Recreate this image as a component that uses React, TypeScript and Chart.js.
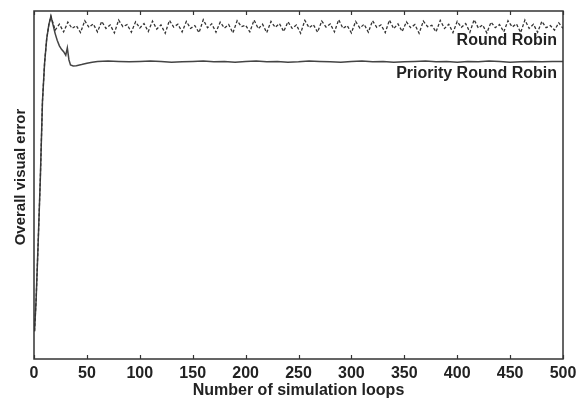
import React, { useEffect, useRef } from "react";
import { Chart, registerables } from "chart.js";

Chart.register(...registerables);

// Shared initial rise (loop index, value)
const riseLoops = [0.5, 2, 4, 6, 8, 10, 12, 14];
const riseValues = [0.08, 0.17, 0.34, 0.52, 0.74, 0.85, 0.92, 0.96];

// Round Robin: values starting at loop 16, every 4 loops up to 500
const rrStartLoop = 16;
const rrLoopStep = 4;
const rrValues = [
  0.985, 0.945, 0.962, 0.940, 0.968, 0.950, 0.958, 0.938,
  0.972, 0.953, 0.963, 0.940, 0.970, 0.950, 0.960, 0.937,
  0.974, 0.955, 0.961, 0.939, 0.969, 0.951, 0.964, 0.941,
  0.971, 0.948, 0.960, 0.936, 0.973, 0.954, 0.962, 0.940,
  0.970, 0.950, 0.958, 0.938, 0.975, 0.952, 0.963, 0.939,
  0.968, 0.951, 0.961, 0.937, 0.972, 0.955, 0.959, 0.940,
  0.974, 0.949, 0.962, 0.938, 0.970, 0.953, 0.964, 0.941,
  0.969, 0.950, 0.960, 0.936, 0.973, 0.952, 0.961, 0.939,
  0.971, 0.954, 0.963, 0.940, 0.975, 0.950, 0.958, 0.937,
  0.970, 0.951, 0.962, 0.939, 0.972, 0.953, 0.960, 0.938,
  0.974, 0.949, 0.963, 0.941, 0.969, 0.952, 0.961, 0.936,
  0.971, 0.955, 0.959, 0.940, 0.973, 0.950, 0.962, 0.938,
  0.970, 0.953, 0.964, 0.939, 0.975, 0.951, 0.960, 0.937,
  0.968, 0.952, 0.961, 0.940, 0.972, 0.954, 0.963, 0.938,
  0.974, 0.950, 0.962, 0.939, 0.970, 0.952, 0.958, 0.945,
  0.966, 0.950,
];

// Priority Round Robin: transient part
const prrHeadLoops = [16, 18, 20, 22, 24, 26, 28, 30, 31.5, 33, 34.5, 37, 40, 45, 50, 55, 60];
const prrHeadValues = [0.985, 0.96, 0.935, 0.915, 0.90, 0.89, 0.883, 0.873, 0.894, 0.86, 0.845, 0.842, 0.843, 0.846, 0.85, 0.853, 0.855];
// Priority Round Robin: steady part, loops 70..500 every 10
const prrTailStart = 70;
const prrTailStep = 10;
const prrTailValues = [
  0.856, 0.855, 0.854, 0.855, 0.856, 0.855, 0.853, 0.854, 0.855, 0.856,
  0.854, 0.855, 0.853, 0.855, 0.856, 0.854, 0.855, 0.853, 0.854, 0.856,
  0.855, 0.854, 0.853, 0.855, 0.856, 0.854, 0.855, 0.853, 0.854, 0.855,
  0.856, 0.854, 0.855, 0.853, 0.855, 0.854, 0.856, 0.855, 0.853, 0.854,
  0.855, 0.854, 0.855, 0.855,
];

const xTitle = "Number of simulation loops";
const yTitle = "Overall visual error";
const rrLabel = "Round Robin";
const prrLabel = "Priority Round Robin";

const FONT = "'Liberation Sans', Arial, sans-serif";

export default function App() {
  const ref = useRef<HTMLCanvasElement | null>(null);

  useEffect(() => {
    if (!ref.current) return;
    const rise = riseLoops.map((x, i) => ({ x, y: riseValues[i] }));
    const rrData = rise.concat(rrValues.map((y, i) => ({ x: rrStartLoop + i * rrLoopStep, y })));
    const prrData = rise
      .concat(prrHeadLoops.map((x, i) => ({ x, y: prrHeadValues[i] })))
      .concat(prrTailValues.map((y, i) => ({ x: prrTailStart + i * prrTailStep, y })));

    const framePlugin = {
      id: "frame",
      afterDraw(chart: any) {
        const ctx = chart.ctx;
        const { left, right, top, bottom } = chart.chartArea;
        const xs = chart.scales.x;
        ctx.save();
        ctx.strokeStyle = "#333";
        ctx.lineWidth = 1.5;
        ctx.strokeRect(left, top, right - left, bottom - top);
        ctx.lineWidth = 1.2;
        xs.ticks.forEach((t: any) => {
          const px = Math.round(xs.getPixelForValue(t.value)) + 0.5;
          ctx.beginPath();
          ctx.moveTo(px, bottom);
          ctx.lineTo(px, bottom - 4);
          ctx.moveTo(px, top);
          ctx.lineTo(px, top + 4);
          ctx.stroke();
        });
        // labels
        ctx.fillStyle = "#222";
        ctx.font = `bold 16px ${FONT}`;
        ctx.textAlign = "right";
        ctx.textBaseline = "middle";
        ctx.fillText(rrLabel, right - 6, top + 30);
        ctx.fillText(prrLabel, right - 6, top + 63);
        // y title
        ctx.font = `bold 15px ${FONT}`;
        ctx.textAlign = "center";
        ctx.translate(21, 177);
        ctx.rotate(-Math.PI / 2);
        ctx.fillText(yTitle, 0, 0);
        ctx.restore();
      },
    };

    const chart = new Chart(ref.current, {
      type: "line",
      data: {
        datasets: [
          {
            label: rrLabel,
            data: rrData,
            borderColor: "#333",
            borderWidth: 1.3,
            borderDash: [3, 2],
            pointRadius: 0,
            tension: 0,
            fill: false,
          },
          {
            label: prrLabel,
            data: prrData,
            borderColor: "#444",
            borderWidth: 1.5,
            pointRadius: 0,
            tension: 0,
            fill: false,
          },
        ],
      },
      options: {
        animation: false,
        responsive: true,
        maintainAspectRatio: false,
        layout: { padding: { top: 11, right: 24, left: 0, bottom: 0 } },
        plugins: { legend: { display: false }, tooltip: { enabled: false } },
        scales: {
          x: {
            type: "linear",
            min: 0,
            max: 500,
            grid: { display: false, drawTicks: false },
            border: { display: false },
            ticks: {
              stepSize: 50,
              padding: 5,
              color: "#222",
              maxRotation: 0,
              font: { family: FONT, size: 16, weight: "bold" },
            },
            title: {
              display: true,
              text: xTitle,
              color: "#222",
              padding: { top: 0, bottom: 0 },
              font: { family: FONT, size: 16, weight: "bold" },
            },
            afterFit(s: any) {
              s.height = 41;
            },
          },
          y: {
            type: "linear",
            min: 0,
            max: 1,
            grid: { display: false, drawTicks: false },
            border: { display: false },
            ticks: { display: false },
            afterFit(s: any) {
              s.width = 34;
            },
          },
        },
      },
      plugins: [framePlugin],
    });
    return () => chart.destroy();
  }, []);

  return (
    <div style={{ position: "absolute", left: 0, top: 0, width: 587, height: 400, background: "#fff" }}>
      <canvas ref={ref} />
    </div>
  );
}
